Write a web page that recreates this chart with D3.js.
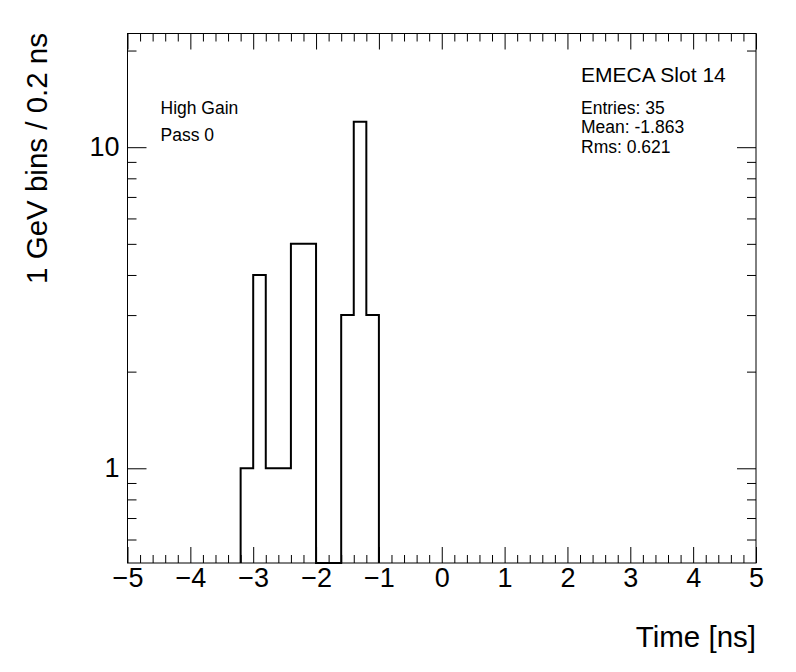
<!DOCTYPE html>
<html>
<head>
<meta charset="utf-8">
<script src="https://cdn.jsdelivr.net/npm/d3@7"></script>
<style>
  body { margin: 0; background: #fff; }
  svg { display: block; }
  text { font-family: "Liberation Sans", Arial, Helvetica, sans-serif; fill: #000; }
  .axis path { display: none; }
  .axis line { stroke: #000; stroke-width: 1; }
</style>
</head>
<body>
<script>
// histogram bins (low edge, 0.2 ns wide) and counts
const binLow = [-3.2, -3.0, -2.8, -2.6, -2.4, -2.2, -2.0, -1.8, -1.6, -1.4, -1.2];
const counts = [1, 4, 1, 1, 5, 5, 0, 0, 3, 12, 3];
const binWidth = 0.2;

const xTicks = [-5, -4, -3, -2, -1, 0, 1, 2, 3, 4, 5];
const yMajor = [1, 10];
const yMinor = [0.6, 0.7, 0.8, 0.9, 2, 3, 4, 5, 6, 7, 8, 9, 20];

const labelsLeft = ["High Gain", "Pass 0"];
const title = "EMECA Slot 14";
const stats = ["Entries: 35", "Mean: -1.863", "Rms: 0.621"];

const W = 796, H = 672;
const margin = { top: 33.5, right: 40, bottom: 109, left: 127.5 };
const gw = W - margin.left - margin.right;
const gh = H - margin.top - margin.bottom;

const svg = d3.select("body").append("svg")
    .attr("width", W)
    .attr("height", H);

const g = svg.append("g")
    .attr("transform", "translate(" + margin.left + "," + margin.top + ")");

const x = d3.scaleLinear().domain([-5, 5]).range([0, gw]);
const yMin = 0.507, yMax = 22.6;
const y = d3.scaleLog().domain([yMin, yMax]).range([gh, 0]);

// x minor ticks every 0.2
const xMinor = d3.range(-50, 51, 2).map(d => d / 10).filter(d => Math.abs(d - Math.round(d)) > 1e-6);

// bottom axis
g.append("g").attr("class", "axis")
    .attr("transform", "translate(0," + gh + ")")
    .call(d3.axisBottom(x).tickValues(xMinor).tickSize(-8).tickFormat(""));
g.append("g").attr("class", "axis")
    .attr("transform", "translate(0," + gh + ")")
    .call(d3.axisBottom(x).tickValues(xTicks).tickSize(-16).tickPadding(5).tickFormat(d3.format("d")))
    .selectAll("text").style("font-size", "27px");

// top axis (mirrored ticks)
g.append("g").attr("class", "axis")
    .call(d3.axisTop(x).tickValues(xMinor).tickSize(-8).tickFormat(""));
g.append("g").attr("class", "axis")
    .call(d3.axisTop(x).tickValues(xTicks).tickSize(-16).tickFormat(""));

// left axis
g.append("g").attr("class", "axis")
    .call(d3.axisLeft(y).tickValues(yMinor).tickSize(-9).tickFormat(""));
g.append("g").attr("class", "axis")
    .call(d3.axisLeft(y).tickValues(yMajor).tickSize(-19).tickPadding(8).tickFormat(d3.format("d")))
    .selectAll("text").style("font-size", "27px");

// right axis
g.append("g").attr("class", "axis")
    .attr("transform", "translate(" + gw + ",0)")
    .call(d3.axisRight(y).tickValues(yMinor).tickSize(-9).tickFormat(""));
g.append("g").attr("class", "axis")
    .attr("transform", "translate(" + gw + ",0)")
    .call(d3.axisRight(y).tickValues(yMajor).tickSize(-19).tickFormat(""));

// frame
g.append("rect")
    .attr("width", gw).attr("height", gh)
    .attr("fill", "none").attr("stroke", "#000").attr("stroke-width", 1);

// histogram outline
const yv = v => y(Math.max(v, yMin));
const pts = [[x(binLow[0]), gh]];
binLow.forEach((lo, i) => {
    pts.push([x(lo), yv(counts[i])]);
    pts.push([x(lo + binWidth), yv(counts[i])]);
});
pts.push([x(binLow[binLow.length - 1] + binWidth), gh]);
g.append("path")
    .attr("d", d3.line()(pts))
    .attr("fill", "none")
    .attr("stroke", "#000")
    .attr("stroke-width", 2);

// labels
g.selectAll(".lbl").data(labelsLeft).enter().append("text")
    .attr("class", "lbl")
    .attr("x", 160.5 - margin.left)
    .attr("y", (d, i) => 113.5 - margin.top + i * 27)
    .style("font-size", "17.5px")
    .text(d => d);

g.append("text")
    .attr("x", 581 - margin.left)
    .attr("y", 81.5 - margin.top)
    .style("font-size", "21px")
    .text(title);

g.selectAll(".st").data(stats).enter().append("text")
    .attr("class", "st")
    .attr("x", 581 - margin.left)
    .attr("y", (d, i) => 113.5 - margin.top + i * 19.5)
    .style("font-size", "17.5px")
    .text(d => d);

// axis titles
svg.append("text")
    .attr("x", 756).attr("y", 647)
    .attr("text-anchor", "end")
    .style("font-size", "29.5px")
    .text("Time [ns]");

svg.append("text")
    .attr("transform", "translate(47,33) rotate(-90)")
    .attr("text-anchor", "end")
    .style("font-size", "29.5px")
    .text("1 GeV bins / 0.2 ns");
</script>
</body>
</html>
